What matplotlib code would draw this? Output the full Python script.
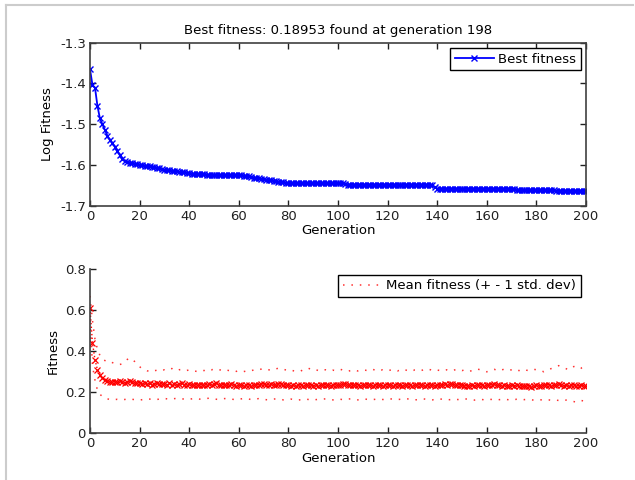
import matplotlib
matplotlib.use("Agg")
import matplotlib.pyplot as plt
from matplotlib.lines import Line2D
import numpy as np

# DATA
generation = np.arange(0, 201)

best_log_fitness = (
    [-1.365, -1.404, -1.41, -1.455, -1.486, -1.50, -1.514, -1.528, -1.539, -1.546,
     -1.555, -1.565, -1.576, -1.585, -1.59, -1.592, -1.594, -1.595, -1.597, -1.598,
     -1.60, -1.60, -1.602, -1.603, -1.603, -1.605, -1.605, -1.608, -1.608, -1.61,
     -1.612, -1.613, -1.613, -1.614, -1.615, -1.615, -1.617, -1.618, -1.618, -1.619,
     -1.62, -1.621, -1.622, -1.622, -1.622, -1.623, -1.623, -1.624, -1.624, -1.624]
    + [-1.625] * 12
    + [-1.626, -1.627, -1.628, -1.63, -1.631, -1.632, -1.633, -1.634,
       -1.635, -1.636, -1.637, -1.638, -1.64, -1.64, -1.641, -1.642, -1.643, -1.644]
    + [-1.645] * 23
    + [-1.646]
    + [-1.648] * 34
    + [-1.65, -1.655]
    + [-1.658] * 32
    + [-1.661] * 16
    + [-1.663] * 13
)

mean_fitness = [
    0.61, 0.44, 0.36, 0.31, 0.285, 0.27, 0.262, 0.256, 0.252, 0.25,
    0.251, 0.248, 0.253, 0.249, 0.246, 0.252, 0.255, 0.25, 0.247, 0.244,
    0.246, 0.242, 0.245, 0.24, 0.243, 0.238, 0.241, 0.244, 0.239, 0.242,
    0.24, 0.236, 0.243, 0.238, 0.241, 0.237, 0.24, 0.243, 0.238, 0.236,
    0.239, 0.235, 0.238, 0.236, 0.234, 0.237, 0.235, 0.238, 0.241, 0.236,
    0.24, 0.243, 0.238, 0.235, 0.237, 0.234, 0.236, 0.239, 0.235, 0.233,
    0.236, 0.234, 0.232, 0.235, 0.237, 0.233, 0.236, 0.238, 0.235, 0.24,
    0.242, 0.238, 0.236, 0.239, 0.237, 0.235, 0.24, 0.242, 0.237, 0.234,
    0.236, 0.233, 0.235, 0.232, 0.236, 0.234, 0.231, 0.235, 0.237, 0.234,
    0.233, 0.236, 0.232, 0.235, 0.238, 0.234, 0.236, 0.233, 0.235, 0.237,
    0.234, 0.236, 0.239, 0.242, 0.238, 0.236, 0.234, 0.237, 0.235, 0.233,
    0.236, 0.234, 0.237, 0.235, 0.232, 0.236, 0.234, 0.237, 0.233, 0.235,
    0.238, 0.236, 0.233, 0.235, 0.237, 0.234, 0.232, 0.236, 0.238, 0.235,
    0.233, 0.236, 0.234, 0.237, 0.235, 0.232, 0.234, 0.237, 0.235, 0.233,
    0.236, 0.234, 0.238, 0.24, 0.237, 0.242, 0.239, 0.236, 0.234, 0.237,
    0.235, 0.232, 0.23, 0.233, 0.235, 0.232, 0.234, 0.237, 0.235, 0.233,
    0.236, 0.234, 0.238, 0.24, 0.236, 0.234, 0.232, 0.235, 0.233, 0.231,
    0.234, 0.232, 0.235, 0.233, 0.23, 0.232, 0.229, 0.231, 0.228, 0.232,
    0.234, 0.231, 0.233, 0.236, 0.238, 0.235, 0.232, 0.234, 0.237, 0.239,
    0.236, 0.233, 0.235, 0.232, 0.234, 0.236, 0.233, 0.231, 0.234, 0.232,
    0.229,
]

upper_std = [
    0.67, 0.55, 0.46, 0.41, 0.38, 0.36, 0.355, 0.35, 0.352, 0.345,
    0.34, 0.338, 0.335, 0.34, 0.35, 0.36, 0.367, 0.362, 0.35, 0.335,
    0.325, 0.315, 0.31, 0.305, 0.302, 0.3, 0.305, 0.308, 0.304, 0.306,
    0.31, 0.307, 0.312, 0.316, 0.309, 0.305, 0.31, 0.312, 0.308, 0.306,
    0.31, 0.307, 0.304, 0.302, 0.305, 0.308, 0.306, 0.311, 0.314, 0.31,
    0.312, 0.315, 0.311, 0.307, 0.305, 0.309, 0.306, 0.303, 0.305, 0.302,
    0.306, 0.303, 0.301, 0.304, 0.307, 0.305, 0.309, 0.312, 0.31, 0.313,
    0.316, 0.312, 0.31, 0.307, 0.31, 0.314, 0.318, 0.315, 0.312, 0.309,
    0.306, 0.309, 0.305, 0.303, 0.306, 0.304, 0.31, 0.315, 0.318, 0.312,
    0.308, 0.311, 0.306, 0.303, 0.307, 0.31, 0.306, 0.304, 0.308, 0.305,
    0.309, 0.312, 0.308, 0.305, 0.302, 0.306, 0.31, 0.307, 0.304, 0.306,
    0.31, 0.308, 0.305, 0.309, 0.312, 0.308, 0.304, 0.306, 0.31, 0.307,
    0.305, 0.308, 0.311, 0.307, 0.304, 0.309, 0.313, 0.31, 0.306, 0.302,
    0.305, 0.309, 0.307, 0.304, 0.308, 0.312, 0.315, 0.311, 0.307, 0.305,
    0.309, 0.306, 0.303, 0.307, 0.31, 0.308, 0.305, 0.309, 0.313, 0.31,
    0.306, 0.309, 0.305, 0.302, 0.306, 0.31, 0.314, 0.311, 0.308, 0.304,
    0.30, 0.305, 0.309, 0.312, 0.308, 0.305, 0.309, 0.313, 0.311, 0.307,
    0.31, 0.314, 0.309, 0.306, 0.31, 0.313, 0.308, 0.305, 0.309, 0.312,
    0.31, 0.307, 0.305, 0.30, 0.305, 0.31, 0.316, 0.322, 0.327, 0.33,
    0.326, 0.32, 0.315, 0.31, 0.318, 0.325, 0.33, 0.327, 0.32, 0.305,
    0.31,
]

lower_std = [
    0.55, 0.33, 0.26, 0.21, 0.19, 0.18, 0.172, 0.168, 0.165, 0.163,
    0.164, 0.166, 0.165, 0.163, 0.165, 0.167, 0.168, 0.166, 0.164, 0.163,
    0.162, 0.164, 0.166, 0.168, 0.167, 0.165, 0.163, 0.165, 0.167, 0.169,
    0.17, 0.168, 0.166, 0.167, 0.169, 0.171, 0.17, 0.168, 0.167, 0.165,
    0.166, 0.168, 0.17, 0.169, 0.167, 0.166, 0.168, 0.17, 0.171, 0.169,
    0.168, 0.166, 0.165, 0.167, 0.169, 0.17, 0.168, 0.167, 0.165, 0.164,
    0.166, 0.168, 0.17, 0.169, 0.167, 0.165, 0.166, 0.168, 0.169, 0.167,
    0.166, 0.164, 0.163, 0.165, 0.167, 0.168, 0.166, 0.165, 0.163, 0.164,
    0.166, 0.167, 0.165, 0.164, 0.162, 0.164, 0.166, 0.167, 0.165, 0.163,
    0.162, 0.164, 0.166, 0.165, 0.167, 0.168, 0.166, 0.164, 0.163, 0.165,
    0.167, 0.166, 0.164, 0.165, 0.167, 0.168, 0.166, 0.165, 0.163, 0.164,
    0.166, 0.167, 0.165, 0.163, 0.164, 0.166, 0.168, 0.167, 0.165, 0.164,
    0.166, 0.168, 0.167, 0.165, 0.164, 0.166, 0.167, 0.169, 0.168, 0.166,
    0.165, 0.163, 0.164, 0.166, 0.168, 0.167, 0.165, 0.164, 0.163, 0.165,
    0.167, 0.168, 0.166, 0.165, 0.163, 0.164, 0.166, 0.167, 0.165, 0.164,
    0.166, 0.168, 0.167, 0.165, 0.163, 0.162, 0.164, 0.166, 0.165, 0.163,
    0.164, 0.166, 0.165, 0.163, 0.162, 0.164, 0.166, 0.167, 0.165, 0.163,
    0.162, 0.164, 0.166, 0.165, 0.163, 0.164, 0.166, 0.165, 0.163, 0.162,
    0.164, 0.165, 0.163, 0.162, 0.164, 0.163, 0.161, 0.16, 0.162, 0.16,
    0.158, 0.16, 0.162, 0.159, 0.157, 0.155, 0.152, 0.156, 0.16, 0.158,
    0.16,
]

title_text = "Best fitness: 0.18953 found at generation 198"

# PLOT
plt.rcParams["font.family"] = "DejaVu Sans"
plt.rcParams["font.size"] = 9.5

fig = plt.figure(figsize=(6.35, 4.8), dpi=100)
fig.patch.set_facecolor("white")

# light gray frame of the screenshot (top and left edges)
fig.add_artist(Line2D([6 / 635, 633 / 635], [1 - 5 / 480, 1 - 5 / 480],
                      color="#cccccc", lw=1.5, transform=fig.transFigure))
fig.add_artist(Line2D([6 / 635, 6 / 635], [0, 1 - 5 / 480],
                      color="#cccccc", lw=1.5, transform=fig.transFigure))

spine_col = "#404040"

# top: best fitness
ax1 = fig.add_axes([90 / 635, 1 - 205.7 / 480, 496 / 635, 163 / 480])
ax1.plot(generation, best_log_fitness, color="blue", lw=1.3, marker="x",
         markersize=4.5, markeredgewidth=1.0, label="Best fitness")
ax1.set_xlim(0, 200)
ax1.set_ylim(-1.7, -1.3)
ax1.set_xticks(np.arange(0, 201, 20))
ax1.set_yticks([-1.7, -1.6, -1.5, -1.4, -1.3])
ax1.set_yticklabels(["-1.7", "-1.6", "-1.5", "-1.4", "-1.3"])
ax1.tick_params(direction="in", length=4, width=1, top=True, right=True,
                colors="#202020", pad=3)
for s in ax1.spines.values():
    s.set_color(spine_col)
    s.set_linewidth(1.2)
ax1.set_xlabel("Generation", labelpad=1)
ax1.set_ylabel("Log Fitness", labelpad=4)
ax1.set_title(title_text, fontsize=9.5, pad=6)
leg1 = ax1.legend(loc="upper right", numpoints=1, handlelength=3,
                  fancybox=False, framealpha=1, edgecolor="black",
                  borderaxespad=0.4, borderpad=0.35, handletextpad=0.3)
leg1.get_frame().set_linewidth(1.0)

# bottom: mean fitness +/- 1 std
ax2 = fig.add_axes([90 / 635, 1 - 433.3 / 480, 496 / 635, 164 / 480])
ax2.plot(generation, upper_std, color="#ff3030", lw=1.1, linestyle=(0, (1, 4.5)),
         label="Mean fitness (+ - 1 std. dev)")
ax2.plot(generation, lower_std, color="#ff3030", lw=1.1, linestyle=(0, (1, 4.5)))
ax2.plot(generation, mean_fitness, color="red", lw=1.0, linestyle=":",
         marker="x", markersize=5, markeredgewidth=0.9)
ax2.set_xlim(0, 200)
ax2.set_ylim(0, 0.8)
ax2.set_xticks(np.arange(0, 201, 20))
ax2.set_yticks([0, 0.2, 0.4, 0.6, 0.8])
ax2.set_yticklabels(["0", "0.2", "0.4", "0.6", "0.8"])
ax2.tick_params(direction="in", length=4, width=1, colors="#202020", pad=3)
ax2.spines["top"].set_visible(False)
ax2.spines["right"].set_visible(False)
for s in ("left", "bottom"):
    ax2.spines[s].set_color(spine_col)
    ax2.spines[s].set_linewidth(1.2)
ax2.set_xlabel("Generation", labelpad=1)
ax2.set_ylabel("Fitness", labelpad=4)
leg2 = ax2.legend(loc="upper right", handlelength=3, fancybox=False,
                  framealpha=1, edgecolor="black", borderaxespad=0.4,
                  borderpad=0.35, handletextpad=0.3)
leg2.get_frame().set_linewidth(1.0)

fig.savefig("out.png", dpi=100)
